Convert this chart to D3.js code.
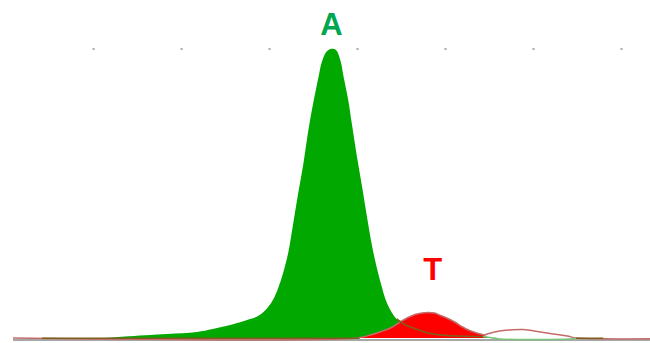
<!DOCTYPE html>
<html>
<head>
<meta charset="utf-8">
<script src="https://cdn.jsdelivr.net/npm/d3@7"></script>
<style>
  html, body { margin: 0; padding: 0; background: #fff; }
  svg { display: block; }
</style>
</head>
<body>
<div id="chart"></div>
<script>
// Electropherogram trace around one base call: A (green) with a small T (red) shoulder.

// Scan positions of the guide dots along the top of the trace panel
const tickScans = [3100, 3200, 3300, 3400, 3500, 3600, 3700];

// Green channel (A): scan numbers and signal intensity
const greenScans  = [3114, 3136, 3184, 3218, 3236, 3256, 3275, 3284, 3291, 3299, 3305, 3310, 3316, 3322, 3327, 3333, 3339, 3344, 3350, 3356, 3360, 3365, 3370, 3376, 3381, 3385, 3390, 3394, 3400, 3406, 3411, 3418, 3426, 3435, 3445, 3455, 3464, 3483, 3502, 3543, 3551, 3562, 3642, 3649];
const greenValues = [0, 15, 40, 60, 90, 130, 180, 205, 240, 310, 390, 490, 650, 860, 1120, 1440, 1740, 2040, 2340, 2600, 2760, 2860, 2890, 2880, 2780, 2600, 2380, 2150, 1810, 1500, 1230, 880, 580, 330, 190, 130, 100, 45, 25, 15, 5, -10, -10, -5];

// Red channel (T): scan numbers and signal intensity
const redScans  = [3009, 3400, 3415, 3426, 3438, 3449, 3458, 3466, 3474, 3481, 3488, 3495, 3502, 3511, 3520, 3528, 3536, 3545, 3548, 3562, 3574, 3589, 3605, 3623, 3639, 3649, 3680, 3733];
const redValues = [0, 0, 30, 60, 100, 160, 205, 235, 250, 255, 250, 225, 200, 160, 110, 75, 50, 30, 40, 70, 80, 85, 65, 40, 20, 0, -8, -8];

// Black channel, drawn in brown; null marks where it is hidden under the other dyes
const blackScans  = [3042, 3403, 3420, 3445, 3455, 3464, 3483, 3502, 3543, 3546, 3649, 3680];
const blackValues = [-3, -3, null, 190, 130, 100, 45, 25, 15, null, -3, -3];

// Scan windows of the two called peaks
const peakWindowA = [3114, 3562];
const peakWindowT = [3400, 3545];
// Tail of the green trace after the T peak (drawn as a thin line)
const greenTailWindow = [3543, 3649];

const callLabels = [
  { base: "A", scan: 3371, value: 3030 },
  { base: "T", scan: 3486, value: 580 }
];

const W = 650, H = 343;
const margin = { left: 13, right: 0, top: 0, bottom: 0 };

const x = d3.scaleLinear().domain([3009, 3733]).range([margin.left, W - margin.right]);
const y = d3.scaleLinear().domain([0, 2900]).range([338, 48]);

const svg = d3.select("#chart").append("svg")
  .attr("width", W).attr("height", H)
  .attr("viewBox", `0 0 ${W} ${H}`);

const zip = (sx, sv) => sx.map((s, i) => ({ s, v: sv[i] }));
const green = zip(greenScans, greenValues);
const red = zip(redScans, redValues);
const black = zip(blackScans, blackValues);

const inWin = (w) => (d) => d.s >= w[0] && d.s <= w[1];

const smooth = d3.curveCatmullRom.alpha(0.5);

const area = d3.area()
  .curve(smooth)
  .x(d => x(d.s))
  .y0(y(0))
  .y1(d => y(Math.max(0, d.v)));

const line = d3.line()
  .curve(smooth)
  .defined(d => d.v !== null)
  .x(d => x(d.s))
  .y(d => y(d.v));

// Baseline rule under the traces
svg.append("line")
  .attr("x1", x.range()[0]).attr("x2", x.range()[1])
  .attr("y1", y(0) + 2).attr("y2", y(0) + 2)
  .attr("stroke", "#8a8a8a").attr("stroke-width", 1.5);

// Guide dots along the top
const topAxis = d3.axisTop(x).tickValues(tickScans).tickSize(0).tickFormat("");
const ga = svg.append("g").attr("transform", `translate(0,${y(2890)})`).call(topAxis);
ga.select(".domain").remove();
ga.selectAll(".tick").append("rect")
  .attr("x", -1).attr("y", -1).attr("width", 2).attr("height", 2)
  .attr("fill", "#a8a8a8");

// Filled peaks
svg.append("path").datum(green.filter(inWin(peakWindowA)))
  .attr("d", area).attr("fill", "#00a800");

svg.append("path").datum(red.filter(inWin(peakWindowT)))
  .attr("d", area).attr("fill", "#ff0000");

// Red trace outline outside the called peak
svg.append("path").datum(red)
  .attr("d", line).attr("fill", "none")
  .attr("stroke", "#c46a6a").attr("stroke-width", 1.5);

// Green trace tail
svg.append("path").datum(green.filter(inWin(greenTailWindow)))
  .attr("d", line).attr("fill", "none")
  .attr("stroke", "#7cc47c").attr("stroke-width", 1.5);

// Black channel
svg.append("path").datum(black)
  .attr("d", line).attr("fill", "none")
  .attr("stroke", "#7f5f1c").attr("stroke-width", 1.6);

// Base-call labels
const labelColor = { A: "#00a651", T: "#ff0000" };
svg.selectAll("text.call").data(callLabels).join("text")
  .attr("class", "call")
  .attr("x", d => x(d.scan))
  .attr("y", d => y(d.value))
  .attr("text-anchor", "middle")
  .attr("font-family", "Arial, 'Liberation Sans', sans-serif")
  .attr("font-weight", "bold")
  .attr("font-size", 31)
  .attr("fill", d => labelColor[d.base])
  .text(d => d.base);
</script>
</body>
</html>
